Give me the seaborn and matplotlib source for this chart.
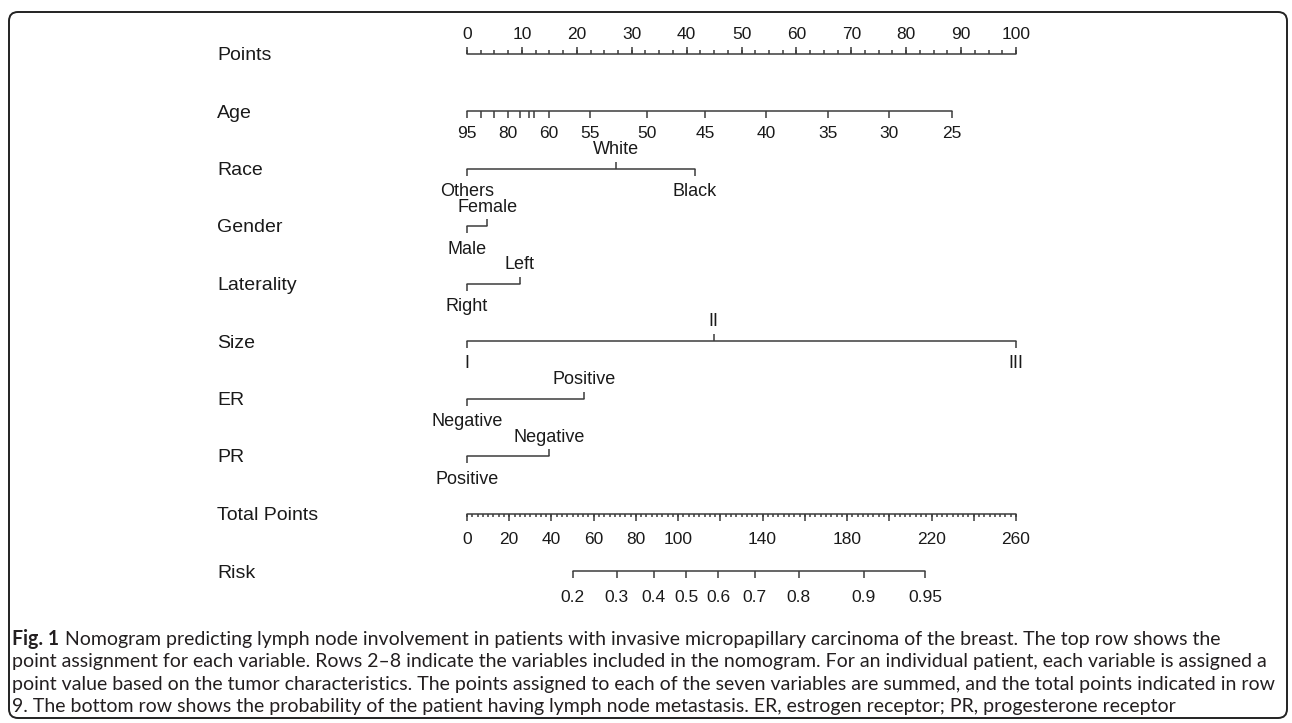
import numpy as np
import pandas as pd
import matplotlib
matplotlib.use("Agg")
import matplotlib.pyplot as plt
import matplotlib.transforms as mtransforms
from matplotlib.patches import FancyBboxPatch
import seaborn as sns

# ---------------------------------------------------------
# data
# ---------------------------------------------------------
row_names = ["Points", "Age", "Race", "Gender", "Laterality", "Size",
             "ER", "PR", "Total Points", "Risk"]

points_major = [0, 10, 20, 30, 40, 50, 60, 70, 80, 90, 100]
points_step_minor = 2.5

age_values = [95, 90, 85, 80, 75, 70, 65, 60, 55, 50, 45, 40, 35, 30, 25]
age_points = [0, 2.5, 5.0, 7.5, 9.6, 11.3, 12.2, 14.9, 22.4, 32.7, 43.4, 54.5, 65.7, 76.9, 88.3]
age_shown = [95, 80, 60, 55, 50, 45, 40, 35, 30, 25]

race_levels = ["Others", "White", "Black"]
race_points = [0, 27.2, 41.5]
gender_levels = ["Male", "Female"]
gender_points = [0, 3.7]
laterality_levels = ["Right", "Left"]
laterality_points = [0, 9.6]
size_levels = ["I", "II", "III"]
size_points = [0, 44.9, 100]
er_levels = ["Negative", "Positive"]
er_points = [0, 21.3]
pr_levels = ["Positive", "Negative"]
pr_points = [0, 14.9]

total_max = 260
total_major = [0, 20, 40, 60, 80, 100, 120, 140, 160, 180, 200, 220, 240, 260]
total_shown = [0, 20, 40, 60, 80, 100, 140, 180, 220, 260]
total_step_minor = 2.5

risk_values = ["0.2", "0.3", "0.4", "0.5", "0.6", "0.7", "0.8", "0.9", "0.95"]
risk_total = [50.0, 71.0, 88.4, 103.9, 119.1, 136.3, 157.2, 187.9, 217.0]

caption_bold = "Fig. 1"
caption_lines = [
    "Nomogram predicting lymph node involvement in patients with invasive micropapillary carcinoma of the breast. The top row shows the",
    "point assignment for each variable. Rows 2\u20138 indicate the variables included in the nomogram. For an individual patient, each variable is assigned a",
    "point value based on the tumor characteristics. The points assigned to each of the seven variables are summed, and the total points indicated in row",
    "9. The bottom row shows the probability of the patient having lymph node metastasis. ER, estrogen receptor; PR, progesterone receptor",
]

# ---------------------------------------------------------
# layout (pixels of the 1292x723 picture)
# ---------------------------------------------------------
W, H = 1292, 723
X0, X1 = 467, 1016          # points 0 .. 100
YTOP, YBOT = 53.5, 571      # row 0 .. row 9
PPR = (YBOT - YTOP) / 9     # pixels per row

sns.set_style("white")
plt.rcParams["font.family"] = ["Liberation Sans", "DejaVu Sans"]

LINE_C = "#3c3c3c"
TEXT_C = "#1a1a1a"
FS = 12.5       # tick labels
FS_LEV = 13     # level labels
FS_ROW = 14     # row names
LW = 1.1

fig = plt.figure(figsize=(W / 100, H / 100), dpi=100)
ax = fig.add_axes([X0 / W, 1 - YBOT / H, (X1 - X0) / W, (YBOT - YTOP) / H])


def px(p):
    return p / PPR


def to_points(t):
    return [v * 100 / total_max for v in t]


# one horizontal rule per row, drawn with seaborn
rules = {
    0: (0, 100), 1: (min(age_points), max(age_points)),
    2: (min(race_points), max(race_points)), 3: (min(gender_points), max(gender_points)),
    4: (min(laterality_points), max(laterality_points)), 5: (min(size_points), max(size_points)),
    6: (min(er_points), max(er_points)), 7: (min(pr_points), max(pr_points)),
    8: (0, 100), 9: (min(to_points(risk_total)), max(to_points(risk_total))),
}
segs = pd.DataFrame([{"row": r, "x": x} for r, (a, b) in rules.items() for x in (a, b)])
sns.lineplot(data=segs, x="x", y="row", units="row", estimator=None, sort=False,
             color=LINE_C, lw=LW, ax=ax, legend=False)


def ticks(row, xs, length, up):
    sign = -1 if up else 1
    ax.vlines(xs, row, row + sign * px(length), color=LINE_C, lw=LW, clip_on=False)


def label(row, x, text, up, gap, fs=FS):
    ax.annotate(text, (x, row), xytext=(0, gap if up else -gap), textcoords="offset pixels",
                ha="center", va="center", fontsize=fs, color=TEXT_C, annotation_clip=False)


# Points
minor = np.arange(0, 100 + 1e-9, points_step_minor)
ticks(0, minor, 3.5, True)
ticks(0, points_major, 7, True)
for v in points_major:
    label(0, v, str(v), True, 19)

# Age
ticks(1, age_points, 7, False)
for a, p in zip(age_values, age_points):
    if a in age_shown:
        label(1, p, str(a), False, 23)

# categorical rows: levels alternate below / above the rule
for row, levels, pts in [(2, race_levels, race_points), (3, gender_levels, gender_points),
                         (4, laterality_levels, laterality_points), (5, size_levels, size_points),
                         (6, er_levels, er_points), (7, pr_levels, pr_points)]:
    for i, (lev, p) in enumerate(zip(levels, pts)):
        up = i % 2 == 1
        ticks(row, [p], 7, up)
        label(row, p, lev, up, 19 if up else 23, FS_LEV)

# Total points
tminor = np.arange(0, total_max + 1e-9, total_step_minor)
ticks(8, to_points(tminor), 3.5, False)
ticks(8, to_points(total_major), 7, False)
for v in total_shown:
    label(8, v * 100 / total_max, str(v), False, 26)

# Risk
ticks(9, to_points(risk_total), 7, False)
for r, t in zip(risk_values, risk_total):
    label(9, t * 100 / total_max, r, False, 26)

for ln in ax.lines:
    ln.set_clip_on(False)
ax.set_xlim(0, 100)
ax.set_ylim(9, 0)
ax.axis("off")

# row names
tr = mtransforms.blended_transform_factory(fig.transFigure, ax.transData)
for i, name in enumerate(row_names):
    ax.text(217 / W, i + px(2), name, transform=tr, ha="left", va="center",
            fontsize=FS_ROW, color=TEXT_C)

# ---------------------------------------------------------
# caption
# ---------------------------------------------------------
cap_fam = ["Liberation Sans Narrow", "Lato", "DejaVu Sans"]
cap_c = "#231f20"
cap_base = [645, 667, 690, 712]   # baselines, px from top
CAP_X = 12
renderer = fig.canvas.get_renderer()

# measure the lines at 12 pt, then scale so the widest one fills the frame
widths = []
probe_b = fig.text(0, 0, caption_bold + " ", fontsize=12, fontweight="bold", family=cap_fam)
for i, line in enumerate(caption_lines):
    p = fig.text(0, 0, line, fontsize=12, family=cap_fam)
    w = p.get_window_extent(renderer).width
    if i == 0:
        w += probe_b.get_window_extent(renderer).width
    widths.append(w)
    p.remove()
probe_b.remove()
cap_fs = 12 * (1274 - CAP_X) / max(widths)

bold = fig.text(CAP_X / W, 1 - cap_base[0] / H, caption_bold, fontsize=cap_fs, fontweight="bold",
                family=cap_fam, color=cap_c, va="baseline")
fig.add_artist(matplotlib.text.Annotation(
    caption_lines[0], xy=(1, H - cap_base[0]), xycoords=(bold, "figure pixels"),
    xytext=(cap_fs * 0.28, 0), textcoords="offset points",
    fontsize=cap_fs, family=cap_fam, color=cap_c, va="baseline", annotation_clip=False))
for i, line in enumerate(caption_lines[1:], start=1):
    fig.text(CAP_X / W, 1 - cap_base[i] / H, line, fontsize=cap_fs, family=cap_fam,
             color=cap_c, va="baseline")

# frame
frame = FancyBboxPatch((9 / 100, (H - 718) / 100), (1287 - 9) / 100, (718 - 12) / 100,
                       boxstyle="round,pad=0,rounding_size=0.09",
                       transform=fig.dpi_scale_trans, fill=False, ec="#222222", lw=1.4)
fig.add_artist(frame)

fig.savefig("out.png", dpi=100)
